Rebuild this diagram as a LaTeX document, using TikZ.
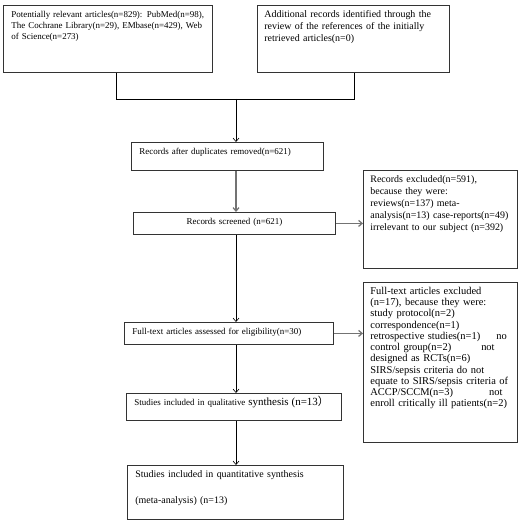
\documentclass[tikz,border=0pt]{standalone}
\usepackage{fontspec}
\setmainfont{Liberation Serif}
\newfontfamily\cjkfont{Noto Sans CJK SC}
\usepackage{tikz}
\usetikzlibrary{arrows.meta}
\def\smallfont{\fontsize{9}{11}\selectfont}
\def\midfont{\fontsize{10}{12}\selectfont}
\def\largefont{\fontsize{10.5}{11.3}\selectfont}
\def\bigfont{\fontsize{11}{11}\selectfont}

\begin{document}
\begin{tikzpicture}[x=1bp, y=-1bp,
		flowbox/.style={draw=black!80, line width=0.8bp, anchor=north west, align=left,
			inner xsep=8bp, inner ysep=4bp, text height=8bp, font=\smallfont},
		sidebox/.style={flowbox, inner xsep=7bp, text width=140bp},
		link/.style={line width=0.6bp},
		glink/.style={line width=1.2bp, draw=black!55},
		>={Straight Barb[length=3.5bp,width=6bp]}]
	\useasboundingbox (0,0) rectangle (519,522);
	\node[flowbox, text width=193bp, text depth=51bp] (pool) at (3,5)
		{Potentially relevant articles(n=829): PubMed(n=98),\\The Cochrane Library(n=29), EMbase(n=429), Web\\of Science(n=273)};
	\node[flowbox, font=\midfont, text width=178bp, inner xsep=7bp, text depth=51bp] (extra) at (257,5)
		{Additional records identified through the\\review of the references of the initially\\retrieved articles(n=0)};
	\node[flowbox, text width=176bp, text depth=12bp] (dedup) at (131,142)
		{Records after duplicates removed(n=621)};
	\node[flowbox, align=center, text width=186bp, text depth=6bp] (screened) at (133,212)
		{Records screened (n=621)};
	\node[sidebox, font=\midfont, text depth=82bp] (excl1) at (363,170)
		{Records excluded(n=591),\\because they were:\\reviews(n=137) meta-\\analysis(n=13) case-reports(n=49)\\irrelevant to our subject (n=392)};
	\node[flowbox, text width=193bp, text depth=6bp] (fulltext) at (124,322)
		{Full-text articles assessed for eligibility(n=30)};
	\node[sidebox, font=\largefont, text depth=144bp] (excl2) at (363,282)
		{Full-text articles excluded\\(n=17), because they were:\\study protocol(n=2)\\correspondence(n=1)\\retrospective studies(n=1)\hspace{16bp}no\\control group(n=2)\hspace{30bp}not\\designed as RCTs(n=6)\\SIRS/sepsis criteria do not\\equate to SIRS/sepsis criteria of\\ACCP/SCCM(n=3)\hspace{36bp}not\\enroll critically ill patients(n=2)};
	\node[flowbox, text width=199bp, text depth=11bp] (qual) at (126,393)
		{Studies included in qualitative {\bigfont synthesis (n=13{\cjkfont ）}}};
	\node[flowbox, font=\midfont, text width=200bp, text depth=38bp] (quant) at (127,465)
		{Studies included in quantitative synthesis\\[14bp](meta-analysis) (n=13)};
	\coordinate (mleft) at (116,99);
	\coordinate (mright) at (354,99);
	\coordinate (mid) at (236,99);
	\draw[link] (pool.south -| mleft) -- (mleft) -- (mright) -- (extra.south -| mright);
	\draw[link,->] (mid) -- (mid |- dedup.north);
	\draw[glink,->] (dedup.south -| mid) -- (mid |- screened.north);
	\draw[glink,->] (screened.east) -- (screened.east -| excl1.west);
	\draw[link,->] (screened.south -| mid) -- (mid |- fulltext.north);
	\draw[glink,->] (fulltext.east) -- (fulltext.east -| excl2.west);
	\draw[link,->] (fulltext.south -| mid) -- (mid |- qual.north);
	\draw[link,->] (qual.south -| mid) -- (mid |- quant.north);
\end{tikzpicture}
\end{document}
